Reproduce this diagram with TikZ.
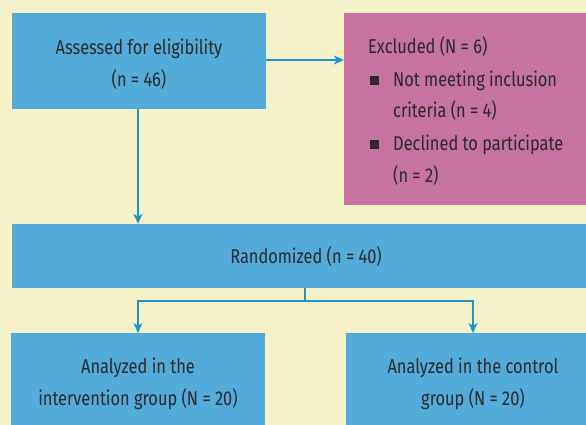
\documentclass[tikz,border=0pt]{standalone}
\usepackage{fontspec}
\setmainfont[FakeStretch=0.82]{Fira Sans}
\usetikzlibrary{arrows.meta}
\definecolor{bg}{HTML}{F5F1C8}
\definecolor{boxblue}{HTML}{52ABD9}
\definecolor{boxpink}{HTML}{C7739F}
\definecolor{arr}{HTML}{1E96C8}
\definecolor{txt}{HTML}{2B2B2B}
\tikzset{
  bluebox/.style={fill=boxblue, draw=none, minimum width=254pt, align=center, text=txt, inner sep=0pt},
  pinkbox/.style={fill=boxpink, draw=none, inner sep=0pt},
  conn/.style={draw=arr, line width=1.1pt, -{Stealth[length=10pt,width=9pt,inset=3pt]}},
  plain/.style={draw=arr, line width=1.1pt},
  lbl/.style={font=\fontsize{20}{32}\selectfont, text=txt},
}
\newcommand{\sqbul}{\makebox[25pt][l]{\hspace*{2pt}\rule[1pt]{9pt}{9pt}}}
\begin{document}
\begin{tikzpicture}[x=1pt,y=-1pt]
\useasboundingbox (0,0) rectangle (586,425);
\clip (0,0) rectangle (586,425);
\fill[bg] (0,0) rectangle (586,425);
% boxes
\fill[boxblue] (12,13) rectangle (266,109);
\node[lbl, align=center, inner sep=0pt] (assess) at (139,64) {Assessed for eligibility\\(n = 46)};
\node[pinkbox, minimum width=254pt, minimum height=192pt] (excl) at (471,109) {};
\node[lbl, align=left, inner sep=0pt, anchor=west] (excltext) at (368,111)
  {Excluded (N = 6)\\\sqbul Not meeting inclusion\\\hspace*{25pt}criteria (n = 4)\\\sqbul Declined to participate\\\hspace*{25pt}(n = 2)};
\node[bluebox, lbl, minimum width=588pt, minimum height=64pt] (rand) at (306,256) {Randomized (n = 40)};
\fill[boxblue] (11,333) rectangle (265,440);
\fill[boxblue] (346,333) rectangle (600,440);
\node[lbl, align=center, inner sep=0pt] (interv) at (138,384) {Analyzed in the\\intervention group (N = 20)};
\node[lbl, align=center, inner sep=0pt] (ctrl) at (473,384) {Analyzed in the control\\group (N = 20)};
% connectors
\coordinate (assessE) at (266,60);
\coordinate (assessS) at (138,109);
\coordinate (intervN) at (138,333);
\coordinate (ctrlN) at (473,333);
\coordinate (split) at (305,301);
\draw[conn] (assessE) -- (excl.west |- assessE);
\draw[conn] (assessS) -- (rand.north -| assessS);
\draw[plain] (rand.south -| split) -- (split);
\draw[conn] (split) -| (intervN);
\draw[conn] (split) -| (ctrlN);
\end{tikzpicture}
\end{document}
